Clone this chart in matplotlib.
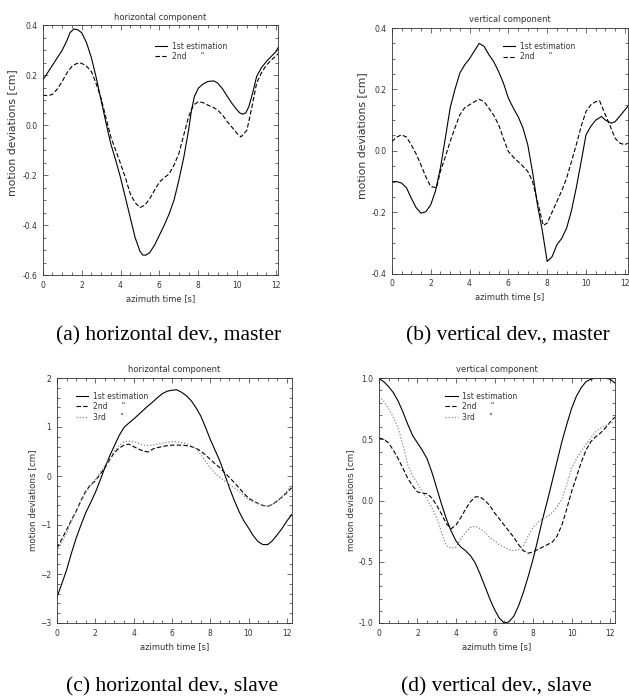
import matplotlib
matplotlib.use("Agg")
import matplotlib.pyplot as plt
from matplotlib.ticker import MultipleLocator, FormatStrFormatter

# (a) horizontal dev., master
t_a1 = [0, 0.25, 0.5, 0.75, 1, 1.25, 1.4, 1.6, 1.8, 2, 2.25, 2.5, 2.75, 3, 3.25, 3.5,
        3.75, 4, 4.25, 4.5, 4.75, 5, 5.15, 5.3, 5.5, 5.75, 6, 6.25, 6.5, 6.75, 7, 7.25,
        7.5, 7.65, 7.8, 8, 8.25, 8.5, 8.8, 9, 9.25, 9.5, 9.75, 10, 10.15, 10.3, 10.45,
        10.6, 10.8, 11, 11.25, 11.5, 11.75, 12, 12.1]
a_1st = [0.18, 0.21, 0.24, 0.27, 0.30, 0.34, 0.37, 0.385, 0.382, 0.37, 0.33, 0.27, 0.19,
         0.10, 0.01, -0.075, -0.14, -0.21, -0.29, -0.37, -0.45, -0.505, -0.52, -0.52,
         -0.51, -0.48, -0.44, -0.40, -0.355, -0.30, -0.22, -0.13, -0.02, 0.06, 0.115,
         0.148, 0.165, 0.175, 0.177, 0.168, 0.145, 0.114, 0.085, 0.06, 0.048, 0.044,
         0.05, 0.074, 0.13, 0.195, 0.23, 0.255, 0.275, 0.295, 0.31]
t_a2 = [0, 0.25, 0.5, 0.75, 1, 1.25, 1.5, 1.7, 1.9, 2.2, 2.5, 2.75, 3, 3.25, 3.5, 3.75,
        4, 4.25, 4.5, 4.75, 5, 5.25, 5.5, 5.75, 6, 6.25, 6.5, 6.75, 7, 7.25, 7.5, 7.75,
        8, 8.25, 8.5, 8.75, 9, 9.25, 9.5, 9.75, 10, 10.2, 10.5, 10.75, 11, 11.25, 11.5,
        11.75, 12, 12.1]
a_2nd = [0.12, 0.118, 0.123, 0.145, 0.175, 0.21, 0.235, 0.245, 0.25, 0.24, 0.215, 0.165,
         0.107, 0.03, -0.047, -0.10, -0.154, -0.21, -0.275, -0.31, -0.33, -0.32, -0.295,
         -0.26, -0.228, -0.21, -0.195, -0.16, -0.114, -0.04, 0.034, 0.08, 0.094, 0.09,
         0.08, 0.072, 0.06, 0.04, 0.013, -0.01, -0.034, -0.047, -0.02, 0.07, 0.168, 0.21,
         0.24, 0.26, 0.278, 0.285]

# (b) vertical dev., master
t_b1 = [0, 0.25, 0.5, 0.75, 1, 1.25, 1.5, 1.75, 2, 2.25, 2.5, 2.75, 3, 3.25, 3.5, 3.75,
        4, 4.25, 4.5, 4.75, 5, 5.25, 5.5, 5.75, 6, 6.25, 6.5, 6.75, 7, 7.25, 7.5, 7.75,
        8, 8.25, 8.5, 8.75, 9, 9.25, 9.5, 9.75, 10, 10.25, 10.5, 10.8, 11, 11.3, 11.5,
        12, 12.15]
b_1st = [-0.10, -0.10, -0.105, -0.12, -0.154, -0.185, -0.203, -0.198, -0.176, -0.13,
         -0.056, 0.04, 0.139, 0.2, 0.253, 0.28, 0.30, 0.325, 0.35, 0.34, 0.313, 0.29,
         0.258, 0.22, 0.172, 0.14, 0.112, 0.075, 0.02, -0.07, -0.176, -0.26, -0.36,
         -0.345, -0.306, -0.285, -0.252, -0.195, -0.12, -0.035, 0.052, 0.08, 0.10,
         0.112, 0.10, 0.09, 0.095, 0.133, 0.145]
t_b2 = [0, 0.25, 0.5, 0.75, 1, 1.25, 1.5, 1.75, 2, 2.3, 2.5, 2.75, 3, 3.25, 3.5, 3.75,
        4, 4.25, 4.5, 4.75, 5, 5.25, 5.5, 5.75, 6, 6.25, 6.5, 6.75, 7, 7.25, 7.5, 7.8,
        8, 8.25, 8.5, 8.75, 9, 9.25, 9.5, 9.75, 10, 10.25, 10.5, 10.7, 11, 11.25, 11.5,
        11.75, 12, 12.15]
b_2nd = [0.03, 0.045, 0.052, 0.045, 0.02, -0.01, -0.046, -0.085, -0.116, -0.12, -0.067,
         -0.02, 0.03, 0.075, 0.117, 0.14, 0.15, 0.16, 0.168, 0.16, 0.139, 0.115, 0.085,
         0.04, -0.002, -0.02, -0.035, -0.05, -0.067, -0.1, -0.165, -0.243, -0.235, -0.2,
         -0.165, -0.13, -0.089, -0.035, 0.02, 0.08, 0.128, 0.15, 0.16, 0.163, 0.117,
         0.08, 0.041, 0.025, 0.02, 0.025]

# (c) and (d) slave, sampled every 0.25 s
t_slave = [0, 0.25, 0.5, 0.75, 1, 1.25, 1.5, 1.75, 2, 2.25, 2.5, 2.75, 3, 3.25, 3.5,
           3.75, 4, 4.25, 4.5, 4.75, 5, 5.25, 5.5, 5.75, 6, 6.25, 6.5, 6.75, 7, 7.25,
           7.5, 7.75, 8, 8.25, 8.5, 8.75, 9, 9.25, 9.5, 9.75, 10, 10.25, 10.5, 10.75,
           11, 11.25, 11.5, 11.75, 12, 12.25]
c_1st = [-2.47, -2.2, -1.92, -1.58, -1.27, -1.0, -0.75, -0.55, -0.34, -0.09, 0.17, 0.41,
         0.62, 0.83, 0.99, 1.08, 1.16, 1.25, 1.34, 1.43, 1.51, 1.6, 1.68, 1.73, 1.75,
         1.76, 1.71, 1.64, 1.54, 1.40, 1.23, 1.0, 0.75, 0.53, 0.31, 0.04, -0.24, -0.49,
         -0.72, -0.91, -1.06, -1.22, -1.34, -1.40, -1.40, -1.32, -1.20, -1.07, -0.92,
         -0.79]
c_2nd = [-1.47, -1.29, -1.10, -0.9, -0.72, -0.5, -0.31, -0.18, -0.10, 0.03, 0.17, 0.33,
         0.48, 0.57, 0.63, 0.65, 0.60, 0.55, 0.51, 0.49, 0.55, 0.58, 0.60, 0.62, 0.63,
         0.63, 0.63, 0.62, 0.60, 0.57, 0.51, 0.43, 0.34, 0.25, 0.17, 0.07, -0.03, -0.13,
         -0.24, -0.35, -0.45, -0.51, -0.56, -0.6, -0.62, -0.58, -0.51, -0.43, -0.34,
         -0.24]
c_3rd = [-1.54, -1.36, -1.16, -0.93, -0.72, -0.52, -0.34, -0.2, -0.07, 0.07, 0.21, 0.36,
         0.51, 0.62, 0.70, 0.71, 0.70, 0.67, 0.63, 0.62, 0.63, 0.65, 0.67, 0.69, 0.70,
         0.70, 0.68, 0.66, 0.62, 0.55, 0.45, 0.3, 0.17, 0.06, -0.03, -0.1, -0.17, -0.24,
         -0.31, -0.4, -0.48, -0.53, -0.56, -0.6, -0.62, -0.58, -0.51, -0.42, -0.31, -0.2]
d_1st = [0.995, 0.97, 0.93, 0.88, 0.81, 0.72, 0.62, 0.53, 0.47, 0.41, 0.34, 0.23, 0.10,
         -0.03, -0.15, -0.25, -0.33, -0.38, -0.41, -0.45, -0.51, -0.6, -0.70, -0.8,
         -0.89, -0.96, -1.0, -0.99, -0.945, -0.86, -0.75, -0.62, -0.48, -0.32, -0.15,
         0.0, 0.16, 0.32, 0.48, 0.62, 0.75, 0.85, 0.92, 0.97, 0.99, 1.0, 1.0, 1.0, 0.99,
         0.96]
d_2nd = [0.51, 0.5, 0.47, 0.41, 0.34, 0.26, 0.18, 0.12, 0.07, 0.06, 0.055, 0.02, -0.04,
         -0.11, -0.19, -0.23, -0.20, -0.14, -0.07, -0.01, 0.03, 0.03, 0.0, -0.04, -0.10,
         -0.15, -0.20, -0.25, -0.30, -0.36, -0.41, -0.43, -0.42, -0.40, -0.38, -0.36,
         -0.34, -0.29, -0.20, -0.07, 0.07, 0.19, 0.31, 0.41, 0.48, 0.52, 0.55, 0.59,
         0.64, 0.68]
d_3rd = [0.85, 0.81, 0.75, 0.68, 0.59, 0.45, 0.29, 0.2, 0.14, 0.07, 0.01, -0.06, -0.14,
         -0.26, -0.37, -0.39, -0.38, -0.31, -0.26, -0.22, -0.21, -0.23, -0.26, -0.30,
         -0.33, -0.36, -0.38, -0.40, -0.41, -0.40, -0.37, -0.29, -0.22, -0.18, -0.15,
         -0.13, -0.10, -0.05, 0.01, 0.13, 0.26, 0.34, 0.40, 0.46, 0.51, 0.56, 0.59, 0.61,
         0.63, 0.64]

labels = ["1st estimation", '2nd      "', '3rd      "']
txt = "#333333"

fig = plt.figure(figsize=(6.29, 7.0), dpi=100)


def style_axes(ax, title, ylim, ymaj, ymin, xmax, ylab_size, ylab_pos):
    ax.set_xlim(0, xmax)
    ax.set_ylim(*ylim)
    ax.xaxis.set_major_locator(MultipleLocator(2))
    ax.xaxis.set_minor_locator(MultipleLocator(0.5))
    ax.yaxis.set_major_locator(MultipleLocator(ymaj))
    ax.yaxis.set_minor_locator(MultipleLocator(ymin))
    ax.tick_params(which="both", direction="in", top=True, right=True,
                   width=0.5, colors=txt, labelsize=5.5, pad=4)
    ax.tick_params(which="major", length=3.5)
    ax.tick_params(which="minor", length=2)
    for s in ax.spines.values():
        s.set_linewidth(0.6)
        s.set_color(txt)
    ax.set_title(title, fontsize=6, color=txt, pad=4)
    ax.set_xlabel("azimuth time [s]", fontsize=6, color=txt, labelpad=3)
    ax.set_ylabel("motion deviations [cm]", fontsize=ylab_size, color=txt)
    ax.yaxis.set_label_coords(*ylab_pos)


def add_legend(ax, x, y):
    ax.legend(loc="upper left", bbox_to_anchor=(x, y), frameon=False, fontsize=5.5,
              handlelength=1.6, handletextpad=0.6, labelspacing=0.2, borderpad=0,
              labelcolor=txt)


solid = dict(color="black", lw=0.8)
dashed = dict(color="black", lw=0.8, linestyle=(0, (4, 2)))
dotted = dict(color="#888888", lw=0.9, linestyle=(0, (1, 1.5)))

# (a)
ax = fig.add_axes([0.068, 0.607, 0.374, 0.357])
ax.plot(t_a1, a_1st, label=labels[0], **solid)
ax.plot(t_a2, a_2nd, label=labels[1], **dashed)
style_axes(ax, "horizontal component", (-0.6, 0.4), 0.2, 0.05, 12.1, 7.8, (-0.108, 0.57))
ax.yaxis.set_major_formatter(FormatStrFormatter("%.1f"))
add_legend(ax, 0.46, 0.95)

# (b)
ax = fig.add_axes([0.623, 0.609, 0.375, 0.351])
ax.plot(t_b1, b_1st, label=labels[0], **solid)
ax.plot(t_b2, b_2nd, label=labels[1], **dashed)
style_axes(ax, "vertical component", (-0.4, 0.4), 0.2, 0.05, 12.15, 7.8, (-0.106, 0.56))
ax.yaxis.set_major_formatter(FormatStrFormatter("%.1f"))
add_legend(ax, 0.455, 0.96)

# (c)
ax = fig.add_axes([0.0906, 0.11, 0.373, 0.35])
ax.plot(t_slave, c_1st, label=labels[0], **solid)
ax.plot(t_slave, c_2nd, label=labels[1], **dashed)
ax.plot(t_slave, c_3rd, label=labels[2], **dotted)
style_axes(ax, "horizontal component", (-3, 2), 1, 0.2, 12.25, 6.3, (-0.085, 0.5))
add_legend(ax, 0.065, 0.96)

# (d)
ax = fig.add_axes([0.6025, 0.11, 0.375, 0.35])
ax.plot(t_slave, d_1st, label=labels[0], **solid)
ax.plot(t_slave, d_2nd, label=labels[1], **dashed)
ax.plot(t_slave, d_3rd, label=labels[2], **dotted)
style_axes(ax, "vertical component", (-1, 1), 0.5, 0.1, 12.25, 6.3, (-0.10, 0.5))
ax.yaxis.set_major_formatter(FormatStrFormatter("%.1f"))
add_legend(ax, 0.265, 0.96)

# sub-figure captions
cap = dict(fontsize=15.5, family="Liberation Serif", ha="center", va="center")
fig.text(169 / 629, 1 - 336 / 700, "(a) horizontal dev., master", **cap)
fig.text(508 / 629, 1 - 336 / 700, "(b) vertical dev., master", **cap)
fig.text(172 / 629, 1 - 687 / 700, "(c) horizontal dev., slave", **cap)
fig.text(496 / 629, 1 - 687 / 700, "(d) vertical dev., slave", **cap)

fig.savefig("out.png", dpi=100)
